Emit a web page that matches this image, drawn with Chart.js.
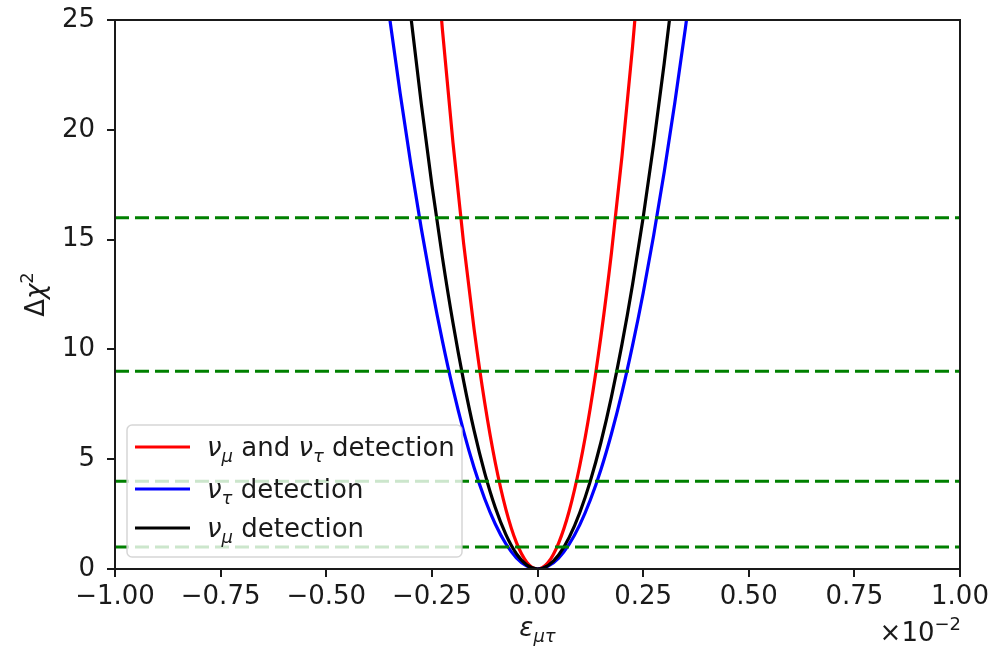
<!DOCTYPE html>
<html>
<head>
<meta charset="utf-8">
<script src="https://cdn.jsdelivr.net/npm/chart.js@4/dist/chart.umd.min.js"></script>
<style>
  html, body { margin: 0; padding: 0; background: #fff; }
  #wrap { width: 1001px; height: 647px; position: relative; }
</style>
</head>
<body>
<div id="wrap"><canvas id="c" width="1001" height="647"></canvas></div>
<script>
// ε_μτ sample positions (×10⁻²)
const epsGrid = [-0.375, -0.35, -0.325, -0.3, -0.275, -0.25, -0.225, -0.2, -0.175, -0.15, -0.125, -0.1, -0.075, -0.05, -0.025,
                 0,
                 0.025, 0.05, 0.075, 0.1, 0.125, 0.15, 0.175, 0.2, 0.225, 0.25, 0.275, 0.3, 0.325, 0.35, 0.375];

// Δχ² of each detection mode at the sample positions (null = far above the plotted range)
const chiBoth = [null, null, null, null, null, 30.3, 24.55, 19.4, 14.85, 10.91, 7.58, 4.85, 2.73, 1.21, 0.30,
                 0,
                 0.29, 1.18, 2.64, 4.70, 7.34, 10.58, 14.39, 18.8, 23.79, 29.4, null, null, null, null, null];
const chiTau  = [28.8, 25.1, 21.65, 18.45, 15.5, 12.81, 10.38, 8.2, 6.28, 4.61, 3.2, 2.05, 1.15, 0.51, 0.13,
                 0,
                 0.13, 0.50, 1.13, 2.01, 3.14, 4.52, 6.16, 8.04, 10.18, 12.56, 15.2, 18.09, 21.23, 24.62, 28.27];
const chiMu   = [null, null, 29.6, 25.2, 21.18, 17.5, 14.18, 11.2, 8.58, 6.3, 4.38, 2.8, 1.58, 0.70, 0.175,
                 0,
                 0.16, 0.64, 1.44, 2.56, 4.0, 5.76, 7.84, 10.24, 12.96, 16.0, 19.36, 23.04, 27.04, null, null];

// confidence thresholds drawn as horizontal dashed lines
const thresholds = [1, 4, 9, 16];

// axis ticks
const xTicks = [-1, -0.75, -0.5, -0.25, 0, 0.25, 0.5, 0.75, 1];
const yTicks = [0, 5, 10, 15, 20, 25];

const FONT = '"DejaVu Sans", "Liberation Sans", sans-serif';
const FS = 26;
const INK = '#1a1a1a';

const toPoints = vals => epsGrid.map((x, i) => ({ x: x, y: vals[i] })).filter(p => p.y !== null);

const curves = [
  { label: 'both', vals: chiBoth, color: '#ff0000', order: 3 },
  { label: 'tau',  vals: chiTau,  color: '#0000ff', order: 2 },
  { label: 'mu',   vals: chiMu,   color: '#000000', order: 1 }
];

const datasets = curves.map(c => ({
  label: c.label,
  data: toPoints(c.vals),
  borderColor: c.color,
  borderWidth: 3.2,
  pointRadius: 0,
  fill: false,
  cubicInterpolationMode: 'monotone',
  order: c.order
}));

thresholds.forEach(t => {
  datasets.push({
    label: 'level ' + t,
    data: [{ x: -1, y: t }, { x: 1, y: t }],
    borderColor: '#008000',
    borderWidth: 3,
    borderDash: [14, 6],
    pointRadius: 0,
    fill: false,
    order: 0
  });
});

// text runs with italic / sub / superscript pieces, laid out left to right
function setFont(ctx, p, size) {
  ctx.font = (p.italic ? 'italic ' : '') + Math.round(size * (p.scale || 1)) + 'px ' + FONT;
}
function richWidth(ctx, parts, size) {
  let w = 0;
  parts.forEach(p => { setFont(ctx, p, size); w += ctx.measureText(p.t).width; });
  return w;
}
function drawRich(ctx, parts, x, y, size, align) {
  let cx = x;
  if (align === 'center') cx = x - richWidth(ctx, parts, size) / 2;
  else if (align === 'right') cx = x - richWidth(ctx, parts, size);
  ctx.textBaseline = 'alphabetic';
  ctx.textAlign = 'left';
  parts.forEach(p => {
    setFont(ctx, p, size);
    ctx.fillText(p.t, cx, y + (p.dy || 0) * size);
    cx += ctx.measureText(p.t).width;
  });
}

const sub = t => ({ t: t, italic: true, scale: 0.7, dy: 0.22 });
const sup = t => ({ t: t, scale: 0.7, dy: -0.42 });

const decorations = {
  id: 'decorations',
  afterDatasetsDraw(chart) {
    const ctx = chart.ctx;
    const a = chart.chartArea;
    ctx.save();
    // axes frame
    ctx.strokeStyle = INK;
    ctx.lineWidth = 2;
    ctx.strokeRect(a.left, a.top, a.right - a.left, a.bottom - a.top);
    ctx.fillStyle = INK;

    // x axis title ε_μτ
    drawRich(ctx, [{ t: 'ε', italic: true }, sub('μτ')], (a.left + a.right) / 2, 636, FS, 'center');

    // offset text ×10⁻²
    drawRich(ctx, [{ t: '×10' }, sup('−2')], a.right + 1, 641, FS, 'right');

    // y axis title Δχ²
    ctx.save();
    ctx.translate(44, (a.top + a.bottom) / 2);
    ctx.rotate(-Math.PI / 2);
    drawRich(ctx, [{ t: 'Δ' }, { t: 'χ', italic: true }, sup('2')], 0, 0, FS, 'center');
    ctx.restore();

    // legend
    const lx = 127, ly = 425, lw = 335, lh = 132, r = 5;
    ctx.beginPath();
    ctx.moveTo(lx + r, ly);
    ctx.arcTo(lx + lw, ly, lx + lw, ly + lh, r);
    ctx.arcTo(lx + lw, ly + lh, lx, ly + lh, r);
    ctx.arcTo(lx, ly + lh, lx, ly, r);
    ctx.arcTo(lx, ly, lx + lw, ly, r);
    ctx.closePath();
    ctx.fillStyle = 'rgba(255,255,255,0.8)';
    ctx.fill();
    ctx.strokeStyle = 'rgba(204,204,204,0.8)';
    ctx.lineWidth = 1.5;
    ctx.stroke();

    const rows = [
      { color: '#ff0000', y: 447, parts: [{ t: 'ν', italic: true }, sub('μ'), { t: ' and ' }, { t: 'ν', italic: true }, sub('τ'), { t: ' detection' }] },
      { color: '#0000ff', y: 489, parts: [{ t: 'ν', italic: true }, sub('τ'), { t: ' detection' }] },
      { color: '#000000', y: 528, parts: [{ t: 'ν', italic: true }, sub('μ'), { t: ' detection' }] }
    ];
    rows.forEach(row => {
      ctx.strokeStyle = row.color;
      ctx.lineWidth = 3;
      ctx.beginPath();
      ctx.moveTo(135, row.y);
      ctx.lineTo(190, row.y);
      ctx.stroke();
      ctx.fillStyle = INK;
      drawRich(ctx, row.parts, 207, row.y + 9, FS, 'left');
    });
    ctx.restore();
  }
};

const fmtX = v => (v < 0 ? '\u2212' : '') + Math.abs(v).toFixed(2);

new Chart(document.getElementById('c'), {
  type: 'line',
  data: { datasets: datasets },
  options: {
    responsive: false,
    animation: false,
    events: [],
    layout: { padding: { top: 20, right: 41, left: 0, bottom: 0 } },
    plugins: { legend: { display: false }, tooltip: { enabled: false } },
    scales: {
      x: {
        type: 'linear',
        min: -1, max: 1,
        afterBuildTicks: s => { s.ticks = xTicks.map(v => ({ value: v })); },
        afterFit: s => { s.height = 78; s.paddingLeft = 0; s.paddingRight = 0; },
        ticks: {
          callback: v => fmtX(v),
          font: { family: FONT, size: FS },
          color: INK,
          padding: 5,
          maxRotation: 0,
          autoSkip: false
        },
        grid: { drawOnChartArea: false, drawTicks: true, tickLength: 8, color: INK, lineWidth: 2 },
        border: { display: true, color: INK, width: 2 }
      },
      y: {
        type: 'linear',
        min: 0, max: 25,
        afterBuildTicks: s => { s.ticks = yTicks.map(v => ({ value: v })); },
        afterFit: s => { s.width = 115; s.paddingTop = 0; s.paddingBottom = 0; },
        ticks: {
          callback: v => String(v),
          font: { family: FONT, size: FS },
          color: INK,
          padding: 12
        },
        grid: { drawOnChartArea: false, drawTicks: true, tickLength: 8, color: INK, lineWidth: 2 },
        border: { display: true, color: INK, width: 2 }
      }
    }
  },
  plugins: [decorations]
});
</script>
</body>
</html>
